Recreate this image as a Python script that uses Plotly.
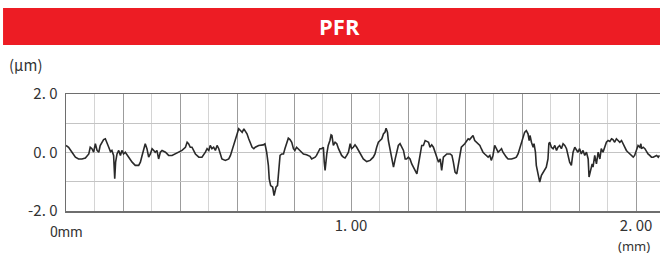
import plotly.graph_objects as go

# ---- profile data (position in mm, height in µm) ----
x_seg_a = [0.000,0.009,0.021,0.033,0.044,0.056,0.068,0.080,0.085,0.091,
           0.097,0.103,0.109,0.115,0.120,0.126,0.132,0.138,0.144,0.150,
           0.156,0.161,0.167,0.171,0.174,0.179,0.185,0.191,0.196,0.202,
           0.208,0.214,0.220,0.232,0.243,0.255,0.261,0.267,0.273,0.278,
           0.284,0.290,0.296,0.302,0.308,0.313,0.319,0.325,0.331,0.337,
           0.349,0.360,0.372,0.384,0.395,0.407,0.419,0.425,0.430,0.436,
           0.442,0.448,0.454,0.466,0.477,0.489,0.495,0.501,0.506,0.512,
           0.518,0.524,0.530,0.536,0.541,0.547,0.559,0.571,0.577,0.582,
           0.588,0.594,0.600,0.606,0.612,0.618,0.624,0.629,0.635,0.641,
           0.647,0.653,0.659,0.664,0.676]
y_seg_a = [0.24,0.18,0.01,-0.16,-0.22,-0.22,-0.19,-0.05,0.18,0.13,
           0.01,0.30,0.07,0.01,0.24,0.35,0.44,0.47,0.35,0.18,
           0.03,0.07,-0.10,-0.90,-0.33,-0.05,0.07,-0.10,0.07,-0.05,
           0.01,-0.10,-0.16,-0.33,-0.44,-0.44,-0.33,-0.10,0.13,0.30,
           0.13,-0.16,-0.05,0.13,0.07,0.01,0.07,-0.22,0.01,0.07,
           0.01,-0.10,-0.10,-0.05,0.01,0.07,0.18,0.35,0.30,0.18,
           0.18,0.07,-0.05,-0.16,-0.16,0.01,0.13,0.07,0.24,0.13,
           0.18,0.07,0.24,0.13,-0.05,-0.22,-0.27,-0.22,-0.10,0.07,
           0.24,0.47,0.64,0.81,0.75,0.69,0.81,0.72,0.64,0.47,
           0.35,0.18,0.13,0.18,0.24]

x_seg_b = [0.692,0.698,0.704,0.710,0.713,0.718,0.725,0.730,0.737,0.742,
           0.745,0.751,0.757,0.763,0.768,0.774,0.780,0.786,0.792,0.798,
           0.803,0.809,0.815,0.821,0.827,0.833,0.844,0.856,0.862,0.868,
           0.874,0.879,0.885,0.891,0.897,0.903,0.906,0.909,0.915,0.920,
           0.926,0.930,0.933,0.938,0.944,0.950,0.956,0.961,0.967,0.973,
           0.979,0.985,0.991,0.997,1.002,1.008,1.014,1.020,1.026,1.032,
           1.038,1.043,1.055,1.067,1.078,1.084,1.090,1.096,1.102,1.108,
           1.114,1.119,1.123,1.128,1.131,1.137,1.143,1.149,1.155,1.160,
           1.166,1.172,1.178,1.184,1.190,1.195,1.201,1.207,1.213,1.219,
           1.225,1.231,1.236,1.242,1.248,1.254,1.260,1.266,1.272,1.277,
           1.283,1.289,1.295,1.301,1.307,1.313,1.318,1.324,1.330,1.336,
           1.348,1.354,1.359,1.365,1.371]
y_seg_b = [0.26,0.30,0.01,-0.44,-0.90,-1.13,-1.18,-1.47,-1.18,-1.13,
           -0.78,-0.10,-0.05,-0.05,0.13,0.35,0.49,0.44,0.35,0.13,
           0.07,0.18,0.13,0.07,0.01,-0.05,-0.08,-0.13,-0.22,-0.19,
           -0.16,-0.10,0.01,0.13,0.13,0.18,-0.33,-0.61,-0.05,0.24,
           0.41,0.60,0.58,0.24,0.35,0.30,0.13,0.01,-0.10,-0.16,
           -0.19,-0.10,0.01,0.30,0.13,0.18,0.26,0.18,0.07,0.01,
           -0.10,-0.22,-0.31,-0.27,-0.16,-0.05,0.18,0.35,0.41,0.47,
           0.64,0.69,0.83,0.69,0.41,0.13,-0.10,-0.50,-0.22,0.01,
           0.24,0.30,0.18,0.07,-0.22,-0.22,-0.16,-0.22,-0.39,-0.50,
           -0.61,-0.73,-0.44,-0.10,0.24,0.24,0.41,0.38,0.35,0.18,
           0.26,0.18,0.01,-0.16,-0.33,-0.22,-0.61,-0.16,-0.10,-0.05,
           -0.05,-0.10,-0.33,-0.67,-0.73]

x_seg_c = [1.387,1.399,1.405,1.411,1.416,1.422,1.428,1.434,1.440,1.446,
           1.452,1.457,1.463,1.469,1.475,1.481,1.487,1.492,1.498,1.504,
           1.510,1.516,1.522,1.528,1.533,1.539,1.545,1.551,1.563,1.574,
           1.580,1.586,1.592,1.598,1.604,1.609,1.615,1.621,1.625,1.628,
           1.633,1.639,1.642,1.647,1.650,1.654,1.658,1.662,1.668,1.674,
           1.680,1.685,1.691,1.694,1.697,1.703,1.709,1.715,1.721,1.726,
           1.732,1.738,1.744,1.750,1.756,1.761,1.767,1.773,1.779,1.785,
           1.791,1.796,1.802,1.808,1.814,1.820,1.826,1.832,1.835,1.841,
           1.846,1.849,1.855,1.861,1.867,1.873,1.878,1.884,1.890,1.896,
           1.902,1.908,1.914,1.919,1.925,1.931,1.937,1.943,1.949,1.954,
           1.960,1.966,1.972,1.978,1.984,1.990,1.995,2.001,2.007,2.013,
           2.017,2.019,2.025,2.031,2.037,2.042,2.048,2.054,2.060,2.066,
           2.072,2.078,2.082]
y_seg_c = [0.18,0.30,0.41,0.47,0.44,0.52,0.58,0.41,0.35,0.30,
           0.24,0.13,0.01,-0.05,-0.10,-0.16,-0.10,-0.27,-0.10,0.24,
           0.13,0.01,0.07,0.13,0.01,-0.10,-0.16,-0.22,-0.22,-0.19,
           -0.16,-0.05,0.13,0.35,0.52,0.69,0.75,0.64,0.41,0.58,
           0.35,0.18,0.30,0.01,-0.44,-0.67,-0.90,-1.01,-0.78,-0.67,
           -0.61,-0.50,-0.22,0.30,0.35,0.18,0.13,0.24,0.07,0.18,
           0.24,0.13,0.30,0.24,0.13,-0.10,-0.33,-0.44,0.01,0.18,
           0.07,0.01,0.13,-0.05,0.07,-0.10,0.01,-0.22,-0.84,-0.56,
           -0.39,-0.50,-0.10,-0.39,0.01,-0.22,0.13,0.01,0.18,0.35,
           0.41,0.38,0.47,0.44,0.35,0.47,0.41,0.35,0.41,0.30,
           0.18,0.07,0.01,-0.05,-0.10,-0.16,-0.10,0.07,0.24,0.18,
           0.30,0.13,0.18,0.13,0.01,-0.05,-0.10,-0.16,-0.16,-0.13,
           -0.10,-0.16,-0.10]

assert len(x_seg_a) == len(y_seg_a)
assert len(x_seg_b) == len(y_seg_b)
assert len(x_seg_c) == len(y_seg_c)

x_mm = x_seg_a + x_seg_b + x_seg_c
height_um = y_seg_a + y_seg_b + y_seg_c

# ---- axis ticks / labels ----
x_tickvals = [0.0, 0.2, 0.4, 0.6, 0.8, 1.0, 1.2, 1.4, 1.6, 1.8, 2.0]
x_ticktext = ["", "", "", "", "", "1. 00", "", "", "", "", "2. 00"]
y_tickvals = [-2, -1, 0, 1, 2]
y_ticktext = ["-2. 0", "", "0. 0", "", "2. 0"]
title_text = "PFR"
y_unit = "(μm)"
x_unit = "(mm)"
x_origin_label = "0mm"

fig = go.Figure()
fig.add_trace(go.Scatter(
    x=x_mm, y=height_um, mode="lines",
    line=dict(color="#2a2a2a", width=1.6),
    showlegend=False, hoverinfo="skip",
))

label_font = dict(family="Noto Sans CJK JP, DejaVu Sans, sans-serif", size=15, color="#333333")

fig.update_layout(
    width=660, height=254,
    margin=dict(l=66, r=0, t=94, b=43),
    paper_bgcolor="white", plot_bgcolor="white",
    xaxis=dict(
        range=[0, 2.084], tickmode="array", tickvals=x_tickvals, ticktext=x_ticktext,
        showgrid=True, gridcolor="#9c9c9c", gridwidth=1,
        minor=dict(tickmode="linear", tick0=0, dtick=0.1, showgrid=True,
                   gridcolor="#d4d4d4", gridwidth=1),
        showline=True, linecolor="#6e6e6e", linewidth=1.5, mirror=True,
        zeroline=False, ticks="", tickfont=label_font, fixedrange=True,
    ),
    yaxis=dict(
        range=[-2, 2], tickmode="array", tickvals=y_tickvals, ticktext=y_ticktext,
        showgrid=True, gridcolor="#c4c4c4", gridwidth=1,
        showline=True, linecolor="#6e6e6e", linewidth=1.5, mirror=False,
        zeroline=False, ticks="", ticklabelstandoff=4, tickfont=label_font, fixedrange=True,
    ),
    shapes=[dict(
        type="rect", xref="paper", yref="paper",
        x0=-0.106, x1=1.01, y0=1.419, y1=1.735,
        fillcolor="#ed1c24", line=dict(width=0), layer="above",
    )],
    annotations=[
        dict(text="<b>" + title_text + "</b>", xref="paper", yref="paper",
             x=0.4596, y=1.577, showarrow=False, xanchor="center", yanchor="middle",
             font=dict(family="Open Sans, Noto Sans, sans-serif", size=22, color="white")),
        dict(text=y_unit, xref="paper", yref="paper", x=-0.099, y=1.256,
             showarrow=False, xanchor="left", yanchor="middle",
             font=dict(family="Noto Sans CJK JP, DejaVu Sans, sans-serif", size=15, color="#333333")),
        dict(text=x_origin_label, xref="x", yref="paper", x=0, y=-0.179,
             showarrow=False, xanchor="center", yanchor="middle",
             font=dict(family="Liberation Sans Narrow, Roboto, sans-serif", size=14, color="#333333")),
        dict(text=x_unit, xref="paper", yref="paper", x=0.956, y=-0.299,
             showarrow=False, xanchor="center", yanchor="middle",
             font=dict(family="Noto Sans, DejaVu Sans, sans-serif", size=13, color="#333333")),
    ],
)

fig.write_html(
    "out.html",
    config={"displayModeBar": False, "staticPlot": True},
    post_script="document.body.style.margin='0';document.body.style.overflow='hidden';",
)
